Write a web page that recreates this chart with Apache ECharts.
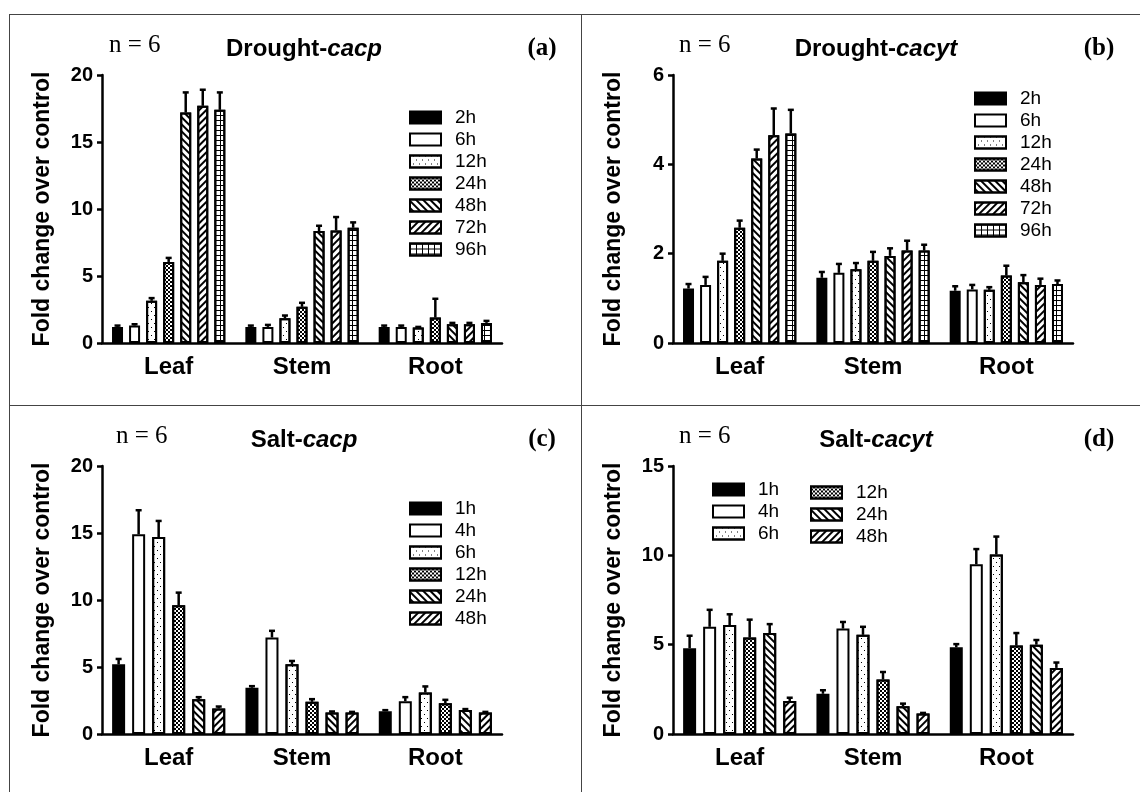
<!DOCTYPE html>
<html>
<head>
<meta charset="utf-8">
<title>Fold change over control</title>
<script src="https://cdn.jsdelivr.net/npm/echarts@6/dist/echarts.min.js"></script>
<style>
  html, body { margin: 0; padding: 0; background: #fff; }
  body { position: relative; width: 1140px; height: 792px; overflow: hidden; }
  .panel { position: absolute; }
  .rule { position: absolute; background: #444; }
</style>
</head>
<body>
<div class="rule" style="left:9px;top:14px;width:1131px;height:1px"></div>
<div class="rule" style="left:9px;top:14px;width:1px;height:778px"></div>
<div class="rule" style="left:581px;top:14px;width:1px;height:778px"></div>
<div class="rule" style="left:9px;top:405px;width:1131px;height:1px"></div>
<div id="pa" class="panel" style="left:10px;top:15px;width:571px;height:390px"></div>
<div id="pb" class="panel" style="left:582px;top:15px;width:558px;height:390px"></div>
<div id="pc" class="panel" style="left:10px;top:406px;width:571px;height:386px"></div>
<div id="pd" class="panel" style="left:582px;top:406px;width:558px;height:386px"></div>
<script>
var categories = ['Leaf', 'Stem', 'Root'];
var droughtHours = ['2h', '6h', '12h', '24h', '48h', '72h', '96h'];
var saltHours = ['1h', '4h', '6h', '12h', '24h', '48h'];

// y axis: [min, max, step]
var axisDroughtCacp = [0, 20, 5];
var axisDroughtCacyt = [0, 6, 2];
var axisSaltCacp = [0, 20, 5];
var axisSaltCacyt = [0, 15, 5];

// one row per time point, columns = Leaf, Stem, Root
var droughtCacp = [
    [1.2, 1.2, 1.2],
    [1.3, 1.2, 1.2],
    [3.15, 1.85, 1.15],
    [6.05, 2.7, 1.9],
    [17.2, 8.35, 1.4],
    [17.7, 8.4, 1.4],
    [17.4, 8.6, 1.5]
];
var droughtCacpErr = [
    [0.1, 0.1, 0.1],
    [0.1, 0.15, 0.1],
    [0.2, 0.2, 0.05],
    [0.3, 0.3, 1.4],
    [1.5, 0.4, 0.1],
    [1.2, 1.0, 0.1],
    [1.3, 0.4, 0.15]
];
var droughtCacyt = [
    [1.22, 1.46, 1.17],
    [1.3, 1.57, 1.2],
    [1.84, 1.65, 1.19],
    [2.58, 1.84, 1.51],
    [4.13, 1.95, 1.36],
    [4.65, 2.07, 1.3],
    [4.69, 2.07, 1.32]
];
var droughtCacytErr = [
    [0.1, 0.13, 0.1],
    [0.18, 0.2, 0.1],
    [0.16, 0.14, 0.06],
    [0.16, 0.2, 0.22],
    [0.2, 0.17, 0.16],
    [0.6, 0.22, 0.14],
    [0.53, 0.13, 0.08]
];
var saltCacp = [
    [5.2, 3.45, 1.7],
    [14.9, 7.2, 2.45],
    [14.7, 5.2, 3.1],
    [9.6, 2.4, 2.3],
    [2.6, 1.6, 1.8],
    [1.9, 1.6, 1.6]
];
var saltCacpErr = [
    [0.4, 0.12, 0.08],
    [1.8, 0.5, 0.3],
    [1.2, 0.25, 0.45],
    [0.95, 0.2, 0.25],
    [0.15, 0.08, 0.06],
    [0.15, 0.05, 0.05]
];
var saltCacyt = [
    [4.8, 2.25, 4.85],
    [6.0, 5.9, 9.5],
    [6.1, 5.55, 10.05],
    [5.4, 3.05, 4.95],
    [5.65, 1.55, 5.0],
    [1.85, 1.15, 3.7]
];
var saltCacytErr = [
    [0.7, 0.2, 0.18],
    [0.95, 0.37, 0.85],
    [0.6, 0.45, 1.0],
    [1.0, 0.42, 0.7],
    [0.5, 0.15, 0.26],
    [0.18, 0.03, 0.3]
];

var SANS = '"Liberation Sans", Arial, sans-serif';
var SERIF = '"Liberation Serif", "Times New Roman", serif';

// bar fills (black & white patterns like the print figure)
var LOOKS = {
    solid: { fill: '#000' },
    open: { fill: '#fff' },
    dots: { fill: '#fff', decal: { symbol: 'rect', symbolSize: 1, color: '#000',
        dashArrayX: [[1, 5], [0, 3, 1, 2]], dashArrayY: [1, 3] } },
    checker: { fill: '#fff', decal: { symbol: 'rect', symbolSize: 1, color: '#000',
        dashArrayX: [[2, 2], [0, 2, 2, 0]], dashArrayY: [2, 0] } },
    back: { fill: '#fff', decal: { symbol: 'rect', symbolSize: 1, color: '#000',
        dashArrayX: [1, 0], dashArrayY: [2, 3], rotation: Math.PI / 4 } },
    fwd: { fill: '#fff', decal: { symbol: 'rect', symbolSize: 1, color: '#000',
        dashArrayX: [1, 0], dashArrayY: [2, 3], rotation: -Math.PI / 4 } },
    grid: { fill: '#fff', decal: { symbol: 'rect', symbolSize: 1, color: '#000',
        dashArrayX: [[1, 0], [1, 5]], dashArrayY: [1, 0, 4, 0] } }
};
var droughtLooks = ['solid', 'open', 'dots', 'checker', 'back', 'fwd', 'grid'];
var saltLooks = ['solid', 'open', 'dots', 'checker', 'back', 'fwd'];

function errorBar(offset) {
    return function (params, api) {
        var k = api.value(0);
        var base = api.coord([k, api.value(1)]);
        var tip = api.coord([k, api.value(1) + api.value(2)]);
        var x = base[0] + offset;
        return {
            type: 'group',
            children: [
                { type: 'line', shape: { x1: x, y1: base[1], x2: x, y2: tip[1] },
                    style: { stroke: '#000', lineWidth: 2.5 } },
                { type: 'line', shape: { x1: x - 3, y1: tip[1], x2: x + 3, y2: tip[1] },
                    style: { stroke: '#000', lineWidth: 2.5 } }
            ]
        };
    };
}

function legendBox(names, left, top) {
    return {
        data: names, orient: 'vertical', left: left, top: top,
        icon: 'rect', itemWidth: 31, itemHeight: 12, itemGap: 3,
        selectedMode: false,
        textStyle: { fontFamily: SANS, fontSize: 19, color: '#000', padding: [0, 0, 0, 9] }
    };
}

function makePanel(id, o) {
    var chart = echarts.init(document.getElementById(id));
    var n = o.hours.length;
    var pitch = o.barW * (1 + o.gap / 100);
    var series = [];
    o.hours.forEach(function (h, i) {
        var look = LOOKS[o.looks[i]];
        var style = { color: look.fill, borderColor: '#000', borderWidth: 2 };
        if (look.decal) style.decal = look.decal;
        series.push({
            name: h, type: 'bar', barWidth: o.barW, barGap: o.gap + '%',
            itemStyle: style, emphasis: { disabled: true },
            data: o.mean[i]
        });
    });
    o.hours.forEach(function (h, i) {
        series.push({
            type: 'custom', z: 5, silent: true,
            renderItem: errorBar((i - (n - 1) / 2) * pitch),
            data: o.mean[i].map(function (v, k) { return [k, v, o.err[i][k]]; })
        });
    });

    var option = {
        animation: false,
        grid: { left: o.gridLeft, top: 60, width: 400, height: 268 },
        xAxis: {
            type: 'category', data: categories,
            axisLine: { lineStyle: { color: '#000', width: 2.5 } },
            axisTick: { alignWithLabel: true, length: 5, lineStyle: { color: '#000', width: 2.5 } },
            axisLabel: { margin: 12, fontFamily: SANS, fontWeight: 'bold', fontSize: 24, color: '#000' }
        },
        yAxis: {
            type: 'value', min: o.axis[0], max: o.axis[1], interval: o.axis[2],
            name: 'Fold change over control', nameLocation: 'middle', nameGap: 48,
            nameTextStyle: { fontFamily: SANS, fontWeight: 'bold', fontSize: 23, color: '#000' },
            axisLine: { show: true, lineStyle: { color: '#000', width: 2.5 } },
            axisTick: { show: true, length: 5, lineStyle: { color: '#000', width: 2.5 } },
            splitLine: { show: false },
            axisLabel: { margin: 9, fontFamily: SANS, fontWeight: 'bold', fontSize: 20, color: '#000' }
        },
        legend: o.legends,
        graphic: [
            { type: 'text', x: o.nX, y: 30, style: { text: 'n = 6', font: '25px ' + SERIF,
                fill: '#000', align: 'left', verticalAlign: 'middle' } },
            { type: 'text', x: 294, y: 34, style: {
                text: '{b|' + o.title[0] + '}{i|' + o.title[1] + '}',
                align: 'center', verticalAlign: 'middle',
                rich: {
                    b: { fontFamily: SANS, fontWeight: 'bold', fontSize: 24, fill: '#000' },
                    i: { fontFamily: SANS, fontWeight: 'bold', fontStyle: 'italic', fontSize: 24, fill: '#000' }
                } } },
            { type: 'text', x: o.tagX, y: 34, style: { text: o.tag, font: 'bold 25px ' + SERIF,
                fill: '#000', align: 'center', verticalAlign: 'middle' } }
        ],
        series: series
    };
    chart.setOption(option);
    return chart;
}

var charts = [
    makePanel('pa', { hours: droughtHours, looks: droughtLooks, mean: droughtCacp, err: droughtCacpErr,
        axis: axisDroughtCacp, barW: 11, gap: 55, gridLeft: 92, nX: 99, tagX: 532,
        title: ['Drought-', 'cacp'], tag: '(a)', legends: [legendBox(droughtHours, 394, 88)] }),
    makePanel('pb', { hours: droughtHours, looks: droughtLooks, mean: droughtCacyt, err: droughtCacytErr,
        axis: axisDroughtCacyt, barW: 11, gap: 55, gridLeft: 91, nX: 97, tagX: 517,
        title: ['Drought-', 'cacyt'], tag: '(b)', legends: [legendBox(droughtHours, 387, 69)] }),
    makePanel('pc', { hours: saltHours, looks: saltLooks, mean: saltCacp, err: saltCacpErr,
        axis: axisSaltCacp, barW: 13, gap: 54, gridLeft: 92, nX: 106, tagX: 532,
        title: ['Salt-', 'cacp'], tag: '(c)', legends: [legendBox(saltHours, 394, 88)] }),
    makePanel('pd', { hours: saltHours, looks: saltLooks, mean: saltCacyt, err: saltCacytErr,
        axis: axisSaltCacyt, barW: 13, gap: 54, gridLeft: 91, nX: 97, tagX: 517,
        title: ['Salt-', 'cacyt'], tag: '(d)',
        legends: [legendBox(saltHours.slice(0, 3), 125, 69), legendBox(saltHours.slice(3), 223, 72)] })
];

window.onresize = function () {
    charts.forEach(function (c) { c.resize(); });
};
</script>
</body>
</html>
